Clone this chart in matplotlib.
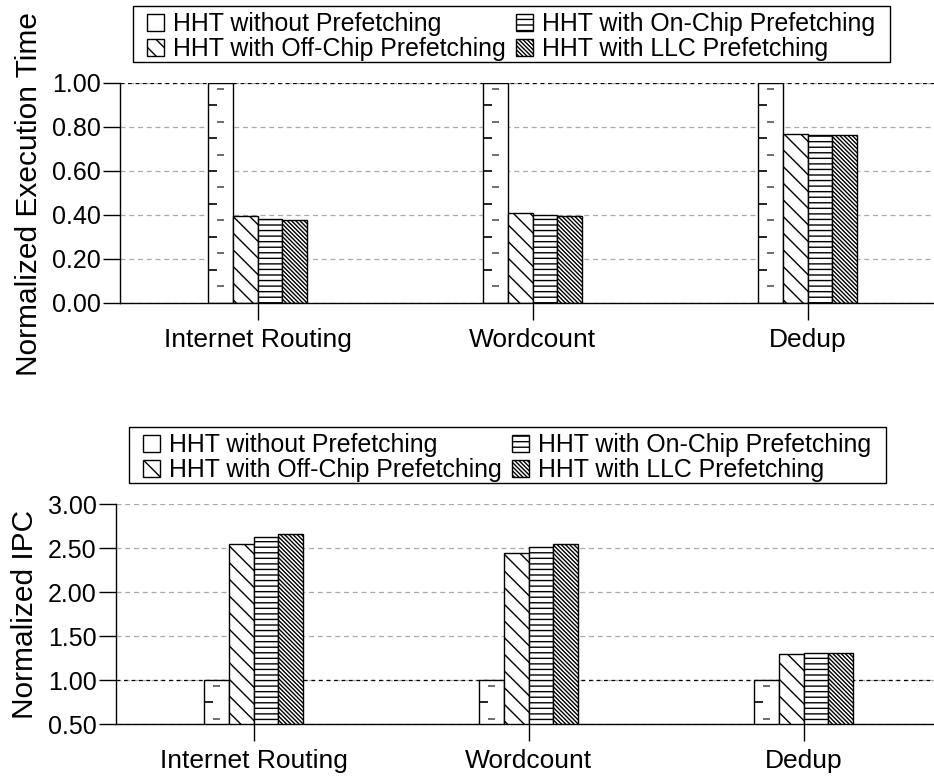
import matplotlib
matplotlib.use("Agg")
import matplotlib.pyplot as plt
from matplotlib.patches import Rectangle
import numpy as np

plt.rcParams["font.family"] = ["Liberation Sans", "DejaVu Sans"]
plt.rcParams["hatch.linewidth"] = 1.0

workloads = ["Internet Routing", "Wordcount", "Dedup"]
configs = [
    "HHT without Prefetching",
    "HHT with Off-Chip Prefetching",
    "HHT with On-Chip Prefetching",
    "HHT with LLC Prefetching",
]

# normalized execution time, one list per config
exec_none = [1.00, 1.00, 1.00]
exec_offchip = [0.395, 0.408, 0.767]
exec_onchip = [0.382, 0.399, 0.762]
exec_llc = [0.378, 0.395, 0.762]

# normalized IPC
ipc_none = [1.00, 1.00, 1.00]
ipc_offchip = [2.54, 2.44, 1.30]
ipc_onchip = [2.62, 2.51, 1.31]
ipc_llc = [2.66, 2.54, 1.31]

exec_ticks = [0.0, 0.2, 0.4, 0.6, 0.8, 1.0]
ipc_ticks = [0.5, 1.0, 1.5, 2.0, 2.5, 3.0]

hatches = ["", "\\\\", "---", "\\\\\\\\\\\\\\\\"]
BAR_W = 0.09
STEP_PX = 33  # spacing of the tick pattern inside the plain bars

fig = plt.figure(figsize=(9.34, 7.76), dpi=100)
W, H = 934, 776


def white_bar_pattern(ax, bars):
    # gnuplot-style ruler marks inside the unhatched bars
    y0, y1 = ax.get_ylim()
    px_per_unit = ax.get_position().height * H / (y1 - y0)
    step = STEP_PX / px_per_unit
    for rect in bars:
        x0 = rect.get_x()
        w = rect.get_width()
        top = rect.get_height()
        xc = x0 + w / 2
        k = 1
        while k * step < top:
            y = k * step
            if y > y0:
                ax.plot([x0, x0 + w * 0.35], [y, y], color="black", lw=1.2,
                        zorder=3, solid_capstyle="butt")
            k += 1
        k = 0
        while (k + 0.5) * step < top:
            y = (k + 0.5) * step
            if y > y0:
                ax.plot([xc - w * 0.14, xc + w * 0.14], [y, y], color="#555555",
                        lw=1.2, zorder=3, solid_capstyle="butt")
            k += 1


def draw_panel(rect, series, ticks, ylabel, label_xy, legend_box):
    ax = fig.add_axes(rect)
    x = np.arange(len(workloads))
    offsets = np.array([-1.5, -0.5, 0.5, 1.5]) * BAR_W
    groups = []
    for vals, hatch, off, name in zip(series, hatches, offsets, configs):
        b = ax.bar(x + off, vals, BAR_W, facecolor="white", edgecolor="black",
                   linewidth=1.0, hatch=hatch, label=name, zorder=2)
        groups.append(b)

    ax.set_xlim(-0.5, 2.5)
    ax.set_ylim(ticks[0], ticks[-1])
    ax.set_yticks(ticks)
    ax.set_yticklabels([f"{t:.2f}" for t in ticks], fontsize=18)
    ax.set_xticks(x)
    ax.set_xticklabels(workloads, fontsize=19)
    ax.tick_params(axis="y", direction="out", length=12, width=1, pad=2)
    ax.tick_params(axis="x", direction="out", length=12, width=1, pad=6)

    ax.spines["top"].set_visible(False)
    ax.spines["right"].set_visible(False)
    ax.spines["left"].set_linewidth(1.0)
    ax.spines["bottom"].set_linewidth(1.0)

    ax.set_axisbelow(True)
    ax.yaxis.grid(True, color="#aaaaaa", linestyle=(0, (4, 3)), linewidth=0.9)
    ax.axhline(1.0, color="black", linestyle=(0, (3, 3)), linewidth=0.9, zorder=1.5)

    white_bar_pattern(ax, groups[0])

    fig.text(label_xy[0] / W, 1 - label_xy[1] / H, ylabel, rotation=90,
             ha="center", va="center", fontsize=21.5)

    # legend box: left, top, right, bottom in pixels
    bx0, by0, bx1, by1 = legend_box
    fig.add_artist(Rectangle((bx0 / W, 1 - by1 / H), (bx1 - bx0) / W,
                             (by1 - by0) / H, transform=fig.transFigure,
                             fill=False, edgecolor="black", linewidth=1.0))
    ax.legend(loc="upper left", ncol=2, fontsize=17.9,
              bbox_to_anchor=((bx0 + 14) / W, 1 - (by0 + 6) / H),
              bbox_transform=fig.transFigure, borderaxespad=0,
              frameon=False, handlelength=0.69, handleheight=0.69,
              handletextpad=0.37, columnspacing=0.4,
              labelspacing=0.04, borderpad=0)
    return ax


draw_panel([120 / W, (H - 303) / H, 825 / W, 220 / H],
           [exec_none, exec_offchip, exec_onchip, exec_llc],
           exec_ticks, "Normalized Execution Time", (29, 194), (133, 6, 890, 62))

draw_panel([116 / W, (H - 724) / H, 825 / W, 220 / H],
           [ipc_none, ipc_offchip, ipc_onchip, ipc_llc],
           ipc_ticks, "Normalized IPC", (25, 614), (129, 427, 886, 483))

fig.savefig("out.png", dpi=100)
